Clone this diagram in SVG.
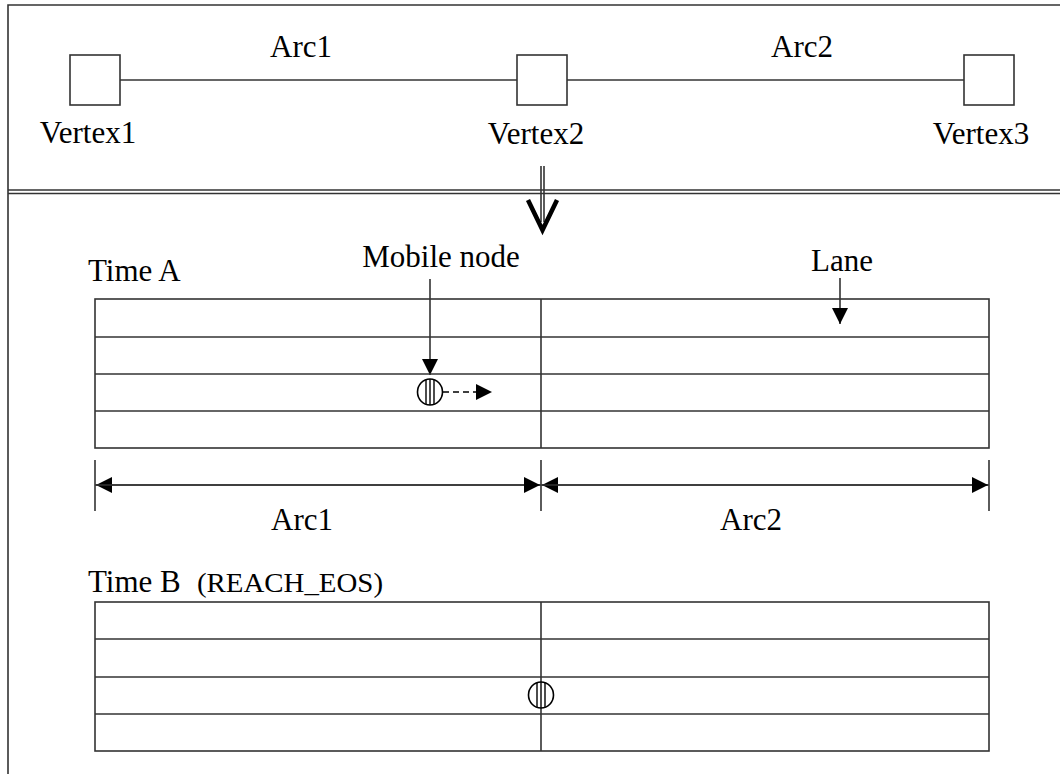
<svg xmlns="http://www.w3.org/2000/svg" width="1060" height="774" viewBox="0 0 1060 774">
<style>
.ln{stroke:#333;stroke-width:1.6;fill:none}
.bx{stroke:#333;stroke-width:1.6;fill:#fff}
.t{font-family:'Liberation Serif','DejaVu Serif',serif;font-size:31px;fill:#000}
.ts{font-family:'Liberation Serif','DejaVu Serif',serif;font-size:27px;fill:#000}
</style>
<defs>
<marker id="ah" markerWidth="16" markerHeight="16" refX="16" refY="8" orient="auto" markerUnits="userSpaceOnUse">
<path d="M0,0 L16,8 L0,16 Z" fill="#000"/>
</marker>
</defs>
<rect width="1060" height="774" fill="#fff"/>
<g id="frame">
<path class="ln" d="M1060,5 H8 V774"/>
<line class="ln" x1="8" y1="190" x2="1060" y2="190"/>
<line class="ln" x1="8" y1="193.5" x2="1060" y2="193.5"/>
</g>
<g id="connectors">
<line class="ln" x1="120" y1="80" x2="517" y2="80"/>
<line class="ln" x1="567" y1="80" x2="964" y2="80"/>
<line class="ln" x1="541" y1="166" x2="541" y2="222"/>
<line class="ln" x1="544" y1="166" x2="544" y2="222"/>
<path d="M528,200 L542.5,230 L557,200" stroke="#000" stroke-width="4.5" fill="none" stroke-linejoin="miter"/>
<line class="ln" x1="430" y1="279" x2="430" y2="375" marker-end="url(#ah)"/>
<line class="ln" x1="840" y1="278" x2="840" y2="324" marker-end="url(#ah)"/>
<line x1="443" y1="392" x2="492" y2="392" stroke="#000" stroke-width="1.6" stroke-dasharray="6,4" marker-end="url(#ah)"/>
</g>
<g id="vertex1">
<rect class="bx" x="70" y="55" width="50" height="50"/>
<text class="t" x="88" y="143" text-anchor="middle">Vertex1</text>
</g>
<g id="vertex2">
<rect class="bx" x="517" y="55" width="50" height="50"/>
<text class="t" x="536" y="144" text-anchor="middle">Vertex2</text>
</g>
<g id="vertex3">
<rect class="bx" x="964" y="55" width="50" height="50"/>
<text class="t" x="981" y="144" text-anchor="middle">Vertex3</text>
</g>
<g id="arc-labels">
<text class="t" x="301" y="57" text-anchor="middle">Arc1</text>
<text class="t" x="802" y="57" text-anchor="middle">Arc2</text>
</g>
<g id="timeA">
<text class="t" x="88" y="281">Time A</text>
<text class="t" x="441" y="267" text-anchor="middle">Mobile node</text>
<text class="t" x="842" y="271" text-anchor="middle">Lane</text>
<rect class="ln" x="95" y="299" width="894" height="149"/>
<line class="ln" x1="95" y1="337" x2="989" y2="337"/>
<line class="ln" x1="95" y1="374" x2="989" y2="374"/>
<line class="ln" x1="95" y1="411" x2="989" y2="411"/>
<line class="ln" x1="541" y1="299" x2="541" y2="448"/>
</g>
<g id="mobile-node-a">
<ellipse cx="430" cy="392" rx="12.5" ry="13" stroke="#000" stroke-width="1.6" fill="#fff"/>
<line x1="426" y1="380" x2="426" y2="404" stroke="#000" stroke-width="1.4"/>
<line x1="430" y1="379" x2="430" y2="405" stroke="#000" stroke-width="1.4"/>
<line x1="434" y1="380" x2="434" y2="404" stroke="#000" stroke-width="1.4"/>
</g>
<g id="dimensions">
<line class="ln" x1="95" y1="460" x2="95" y2="511"/>
<line class="ln" x1="541" y1="460" x2="541" y2="511"/>
<line class="ln" x1="989" y1="460" x2="989" y2="511"/>
<line class="ln" x1="541" y1="485" x2="96" y2="485" marker-end="url(#ah)"/>
<line class="ln" x1="95" y1="485" x2="540" y2="485" marker-end="url(#ah)"/>
<line class="ln" x1="989" y1="485" x2="542" y2="485" marker-end="url(#ah)"/>
<line class="ln" x1="541" y1="485" x2="988" y2="485" marker-end="url(#ah)"/>
<text class="t" x="302" y="530" text-anchor="middle">Arc1</text>
<text class="t" x="751" y="530" text-anchor="middle">Arc2</text>
</g>
<g id="timeB">
<text class="t" x="88" y="592">Time B</text>
<text class="ts" x="197" y="592" textLength="186" lengthAdjust="spacingAndGlyphs">(REACH_EOS)</text>
<rect class="ln" x="95" y="602" width="894" height="149"/>
<line class="ln" x1="95" y1="639" x2="989" y2="639"/>
<line class="ln" x1="95" y1="677" x2="989" y2="677"/>
<line class="ln" x1="95" y1="714" x2="989" y2="714"/>
<line class="ln" x1="541" y1="602" x2="541" y2="751"/>
</g>
<g id="mobile-node-b">
<ellipse cx="541" cy="695" rx="12.5" ry="13" stroke="#000" stroke-width="1.6" fill="#fff"/>
<line x1="537" y1="683" x2="537" y2="707" stroke="#000" stroke-width="1.4"/>
<line x1="541" y1="682" x2="541" y2="708" stroke="#000" stroke-width="1.4"/>
<line x1="545" y1="683" x2="545" y2="707" stroke="#000" stroke-width="1.4"/>
</g>
</svg>
